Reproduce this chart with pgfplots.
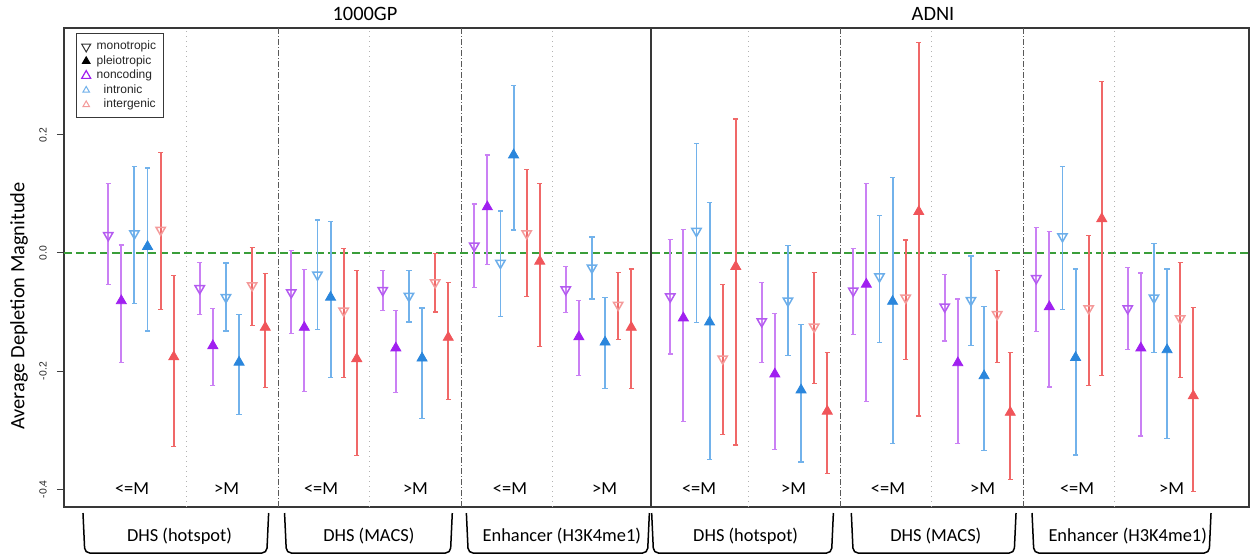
\documentclass[border=0pt]{standalone}
\usepackage{pgfplots}
\pgfplotsset{compat=1.18}
\usepackage{pgfplotstable}
\usepackage{fontspec}
\setmainfont{Carlito}
\newfontfamily\arialfont{Liberation Sans}

\definecolor{frame}{HTML}{383838}
\definecolor{purpleM}{HTML}{A020F0}
\definecolor{purpleB}{HTML}{CA80F4}
\definecolor{purpleMono}{HTML}{B45BF0}
\definecolor{blueM}{HTML}{2A86DC}
\definecolor{blueB}{HTML}{72B2EB}
\definecolor{blueMono}{HTML}{6CAEEA}
\definecolor{redM}{HTML}{F0555A}
\definecolor{redB}{HTML}{F06868}
\definecolor{redMono}{HTML}{F49A9A}
\definecolor{grn}{HTML}{3A9E3A}

% noncoding monotropic
\pgfplotstableread{
g y lo hi
0 0.030 -0.054 0.118
1 -0.060 -0.104 -0.016
2 -0.067 -0.136 0.004
3 -0.063 -0.097 -0.029
4 0.012 -0.058 0.083
5 -0.062 -0.101 -0.023
6.142 -0.074 -0.171 0.023
7.142 -0.116 -0.185 -0.050
8.142 -0.064 -0.138 0.008
9.142 -0.091 -0.149 -0.036
10.142 -0.043 -0.133 0.043
11.142 -0.094 -0.163 -0.024
}\NM
% noncoding pleiotropic
\pgfplotstableread{
g y lo hi
0 -0.081 -0.186 0.0135
1 -0.157 -0.225 -0.094
2 -0.126 -0.234 -0.028
3 -0.161 -0.236 -0.097
4 0.078 -0.019 0.166
5 -0.142 -0.208 -0.080
6.142 -0.110 -0.285 0.040
7.142 -0.205 -0.333 -0.103
8.142 -0.053 -0.252 0.118
9.142 -0.186 -0.322 -0.078
10.142 -0.091 -0.227 0.037
11.142 -0.161 -0.310 -0.034
}\NP
% intronic monotropic
\pgfplotstableread{
g y lo hi
0 0.033 -0.085 0.146
1 -0.075 -0.132 -0.017
2 -0.037 -0.130 0.056
3 -0.073 -0.117 -0.029
4 -0.017 -0.107 0.071
5 -0.025 -0.078 0.027
6.142 0.037 -0.118 0.185
7.142 -0.081 -0.173 0.013
8.142 -0.040 -0.152 0.064
9.142 -0.080 -0.157 -0.005
10.142 0.028 -0.095 0.147
11.142 -0.076 -0.168 0.016
}\IM
% intronic pleiotropic
\pgfplotstableread{
g y lo hi
0 0.011 -0.132 0.144
1 -0.185 -0.274 -0.104
2 -0.075 -0.211 0.054
3 -0.178 -0.280 -0.093
4 0.166 0.039 0.284
5 -0.151 -0.230 -0.076
6.142 -0.117 -0.349 0.085
7.142 -0.232 -0.354 -0.121
8.142 -0.082 -0.323 0.128
9.142 -0.208 -0.334 -0.091
10.142 -0.177 -0.342 -0.027
11.142 -0.164 -0.314 -0.027
}\IP
% intergenic monotropic
\pgfplotstableread{
g y lo hi
0 0.039 -0.095 0.170
1 -0.055 -0.123 0.009
2 -0.098 -0.211 0.008
3 -0.050 -0.100 -0.001
4 0.033 -0.073 0.142
5 -0.088 -0.146 -0.033
6.142 -0.179 -0.307 -0.054
7.142 -0.125 -0.221 -0.033
8.142 -0.076 -0.180 0.022
9.142 -0.104 -0.186 -0.030
10.142 -0.094 -0.225 0.029
11.142 -0.111 -0.211 -0.016
}\GM
% intergenic pleiotropic
\pgfplotstableread{
g y lo hi
0 -0.176 -0.328 -0.038
1 -0.126 -0.228 -0.035
2 -0.179 -0.343 -0.029
3 -0.143 -0.248 -0.050
4 -0.014 -0.159 0.118
5 -0.126 -0.230 -0.027
6.142 -0.023 -0.325 0.227
7.142 -0.268 -0.374 -0.168
8.142 0.070 -0.276 0.357
9.142 -0.270 -0.384 -0.168
10.142 0.058 -0.207 0.291
11.142 -0.242 -0.404 -0.092
}\GP

\pgfplotsset{
  ebars/.style={error bars/.cd, y dir=both, y explicit,
    error bar style={color=#1, line width=0.95pt},
    error mark options={rotate=90, color=#1, line width=0.6pt, mark size=1.3pt}},
  monoS/.style 2 args={only marks, forget plot, mark=triangle, mark size=2.7pt,
    mark options={rotate=180, draw=#1, fill=none, line width=0.75pt}, ebars=#2},
  pleioS/.style 2 args={only marks, forget plot, mark=triangle*, mark size=2.9pt,
    mark options={draw=#1, fill=#1}, ebars=#2},
}
\newcommand{\bracket}[2]{\draw[line width=0.75pt, rounded corners=2.5pt] (axis cs:#1,-0.4403) -- (axis cs:#1+0.02,-0.5081) -- (axis cs:#2-0.02,-0.5081) -- (axis cs:#2,-0.4403);}

\begin{document}
\begin{tikzpicture}
\useasboundingbox (-32pt,-24.5pt) rectangle (593pt,253.5pt);
\begin{axis}[
  at={(0,0)}, anchor=south west,
  scale only axis, width=592.5pt, height=239.5pt,
  xmin=-0.8415, xmax=12.109, ymin=-0.4301, ymax=0.3810,
  clip=false,
  axis line style={line width=0.9pt, color=frame},
  xtick=\empty,
  ytick={-0.4,-0.2,0,0.2}, yticklabels={-0.4,-0.2,0.0,0.2},
  ytick pos=left, tick align=outside, major tick length=3.5pt,
  tick style={color=black!75, line width=0.5pt},
  yticklabel style={rotate=90, anchor=south, inner xsep=0pt, inner ysep=5pt, text depth=0pt,
    font=\arialfont\fontsize{5.2}{6}\selectfont, text=black!85},
  legend image code/.code={\draw[#1] plot coordinates {(0pt,0pt)};},
  legend cell align=left,
  legend style={at={(axis description cs:0.01013,0.98956)}, anchor=north west,
    draw=frame, line width=0.5pt, fill=white,
    font=\arialfont\fontsize{6}{7}\selectfont, text=black!85,
    inner xsep=2.6pt, inner ysep=3pt, row sep=0pt,
    /tikz/every odd column/.append style={column sep=2pt},
    nodes={inner xsep=1pt, inner ysep=0.6pt, text height=4.6pt, text depth=1.45pt}},
]
% dividers
\draw[gray!60, line width=0.5pt, dotted] (axis cs:0.5,-0.4301) -- (axis cs:0.5,0.3810);
\draw[gray!60, line width=0.5pt, dotted] (axis cs:2.5,-0.4301) -- (axis cs:2.5,0.3810);
\draw[gray!60, line width=0.5pt, dotted] (axis cs:4.5,-0.4301) -- (axis cs:4.5,0.3810);
\draw[gray!60, line width=0.5pt, dotted] (axis cs:6.642,-0.4301) -- (axis cs:6.642,0.3810);
\draw[gray!60, line width=0.5pt, dotted] (axis cs:8.642,-0.4301) -- (axis cs:8.642,0.3810);
\draw[gray!60, line width=0.5pt, dotted] (axis cs:10.642,-0.4301) -- (axis cs:10.642,0.3810);
\draw[black!65, line width=0.5pt, dash pattern=on 3pt off 1pt on 0.5pt off 1pt] (axis cs:1.5,-0.4301) -- (axis cs:1.5,0.3810);
\draw[black!65, line width=0.5pt, dash pattern=on 3pt off 1pt on 0.5pt off 1pt] (axis cs:3.5,-0.4301) -- (axis cs:3.5,0.3810);
\draw[black!65, line width=0.5pt, dash pattern=on 3pt off 1pt on 0.5pt off 1pt] (axis cs:7.642,-0.4301) -- (axis cs:7.642,0.3810);
\draw[black!65, line width=0.5pt, dash pattern=on 3pt off 1pt on 0.5pt off 1pt] (axis cs:9.642,-0.4301) -- (axis cs:9.642,0.3810);
\draw[frame, line width=0.9pt] (axis cs:5.571,-0.4301) -- (axis cs:5.571,0.3810);
\draw[grn, line width=0.75pt, dash pattern=on 4pt off 2pt] (axis cs:-0.8415,0) -- (axis cs:12.109,0);

% data
\addplot[monoS={purpleMono}{purpleB}] table[x expr=\thisrow{g}-0.358, y=y, y error plus expr=\thisrow{hi}-\thisrow{y}, y error minus expr=\thisrow{y}-\thisrow{lo}] {\NM};
\addplot[pleioS={purpleM}{purpleB}] table[x expr=\thisrow{g}-0.215, y=y, y error plus expr=\thisrow{hi}-\thisrow{y}, y error minus expr=\thisrow{y}-\thisrow{lo}] {\NP};
\addplot[monoS={blueMono}{blueB}] table[x expr=\thisrow{g}-0.0716, y=y, y error plus expr=\thisrow{hi}-\thisrow{y}, y error minus expr=\thisrow{y}-\thisrow{lo}] {\IM};
\addplot[pleioS={blueM}{blueB}] table[x expr=\thisrow{g}+0.0716, y=y, y error plus expr=\thisrow{hi}-\thisrow{y}, y error minus expr=\thisrow{y}-\thisrow{lo}] {\IP};
\addplot[monoS={redMono}{redB}] table[x expr=\thisrow{g}+0.215, y=y, y error plus expr=\thisrow{hi}-\thisrow{y}, y error minus expr=\thisrow{y}-\thisrow{lo}] {\GM};
\addplot[pleioS={redM}{redB}] table[x expr=\thisrow{g}+0.358, y=y, y error plus expr=\thisrow{hi}-\thisrow{y}, y error minus expr=\thisrow{y}-\thisrow{lo}] {\GP};

% legend
\addlegendimage{mark=triangle, mark size=2.6pt, mark options={rotate=180, draw=black!80, fill=none, line width=0.5pt}}
\addlegendentry{monotropic}
\addlegendimage{mark=triangle*, mark size=2.2pt, mark options={draw=black, fill=black}}
\addlegendentry{pleiotropic}
\addlegendimage{mark=triangle, mark size=2.6pt, mark options={draw=purpleM, fill=none, line width=0.6pt}}
\addlegendentry{noncoding}
\addlegendimage{mark=triangle, mark size=1.9pt, mark options={draw=blueB, fill=none, line width=0.5pt}}
\addlegendentry{\hspace{3.5pt}intronic}
\addlegendimage{mark=triangle, mark size=1.9pt, mark options={draw=redMono, fill=none, line width=0.5pt}}
\addlegendentry{\hspace{3.5pt}intergenic}

% text
\node[font=\fontsize{10.2}{12}\selectfont] at (axis cs:2.448,0.405) {1000GP};
\node[font=\fontsize{10.2}{12}\selectfont] at (axis cs:8.656,0.405) {ADNI};
\node[rotate=90, font=\fontsize{10.2}{12}\selectfont] at (axis cs:-1.333,-0.0898) {Average Depletion Magnitude};

\node[anchor=base, font=\fontsize{9.2}{11}\selectfont] at (axis cs:-0.098,-0.4087) {<=M};
\node[anchor=base, font=\fontsize{9.2}{11}\selectfont] at (axis cs:0.935,-0.4087) {>M};
\node[anchor=base, font=\fontsize{9.2}{11}\selectfont] at (axis cs:1.968,-0.4087) {<=M};
\node[anchor=base, font=\fontsize{9.2}{11}\selectfont] at (axis cs:3.000,-0.4087) {>M};
\node[anchor=base, font=\fontsize{9.2}{11}\selectfont] at (axis cs:4.033,-0.4087) {<=M};
\node[anchor=base, font=\fontsize{9.2}{11}\selectfont] at (axis cs:5.066,-0.4087) {>M};
\node[anchor=base, font=\fontsize{9.2}{11}\selectfont] at (axis cs:6.099,-0.4087) {<=M};
\node[anchor=base, font=\fontsize{9.2}{11}\selectfont] at (axis cs:7.132,-0.4087) {>M};
\node[anchor=base, font=\fontsize{9.2}{11}\selectfont] at (axis cs:8.164,-0.4087) {<=M};
\node[anchor=base, font=\fontsize{9.2}{11}\selectfont] at (axis cs:9.197,-0.4087) {>M};
\node[anchor=base, font=\fontsize{9.2}{11}\selectfont] at (axis cs:10.230,-0.4087) {<=M};
\node[anchor=base, font=\fontsize{9.2}{11}\selectfont] at (axis cs:11.263,-0.4087) {>M};

\bracket{-0.634}{1.395}
\bracket{1.569}{3.402}
\bracket{3.556}{5.556}
\bracket{5.581}{7.567}
\bracket{7.763}{9.563}
\bracket{9.738}{11.694}

\node[anchor=base, font=\fontsize{9.2}{11}\selectfont] at (axis cs:0.421,-0.4886) {DHS (hotspot)};
\node[anchor=base, font=\fontsize{9.2}{11}\selectfont] at (axis cs:2.490,-0.4886) {DHS (MACS)};
\node[anchor=base, font=\fontsize{9.2}{11}\selectfont] at (axis cs:4.599,-0.4886) {Enhancer (H3K4me1)};
\node[anchor=base, font=\fontsize{9.2}{11}\selectfont] at (axis cs:6.608,-0.4886) {DHS (hotspot)};
\node[anchor=base, font=\fontsize{9.2}{11}\selectfont] at (axis cs:8.686,-0.4886) {DHS (MACS)};
\node[anchor=base, font=\fontsize{9.2}{11}\selectfont] at (axis cs:10.783,-0.4886) {Enhancer (H3K4me1)};
\end{axis}
\end{tikzpicture}
\end{document}
